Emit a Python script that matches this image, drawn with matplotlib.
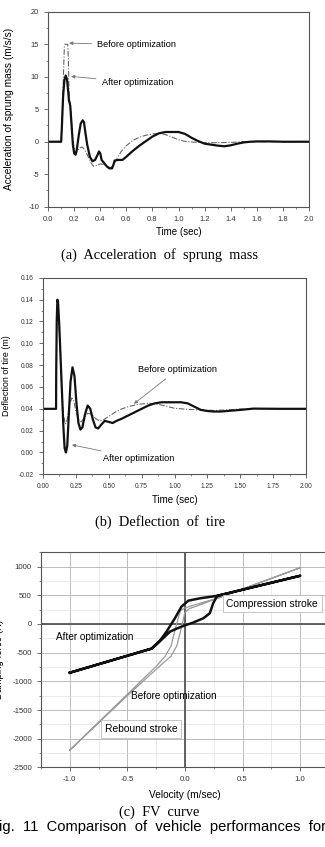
import matplotlib
matplotlib.use("Agg")
import matplotlib.pyplot as plt
from matplotlib.ticker import MultipleLocator

plt.rcParams['font.family'] = ['Liberation Sans', 'DejaVu Sans']
plt.rcParams['axes.unicode_minus'] = False

# (a) acceleration of sprung mass
t_a_after = [0.0, 0.10, 0.105, 0.115, 0.125, 0.135, 0.145, 0.155, 0.16, 0.165, 0.17, 0.18, 0.19, 0.20, 0.21,
             0.22, 0.235, 0.25, 0.265, 0.275, 0.285, 0.30, 0.32, 0.34, 0.36, 0.375, 0.39, 0.40, 0.41, 0.43,
             0.45, 0.47, 0.49, 0.50, 0.51, 0.54, 0.57, 0.60, 0.65, 0.70, 0.75, 0.80, 0.85, 0.90, 0.95, 1.00,
             1.05, 1.10, 1.15, 1.20, 1.25, 1.30, 1.35, 1.40, 1.45, 1.50, 1.55, 1.60, 1.70, 1.80, 2.00]
acc_after = [0, 0, 2, 7, 9.5, 10.2, 9.6, 7.5, 6.3, 6.0, 5.5, 2.5, -0.5, -1.8, -2.0,
             -1.2, 1.0, 2.8, 3.3, 3.0, 1.5, -0.5, -2.3, -3.0, -2.8, -2.2, -1.5, -1.8, -2.8, -3.3,
             -3.8, -4.1, -4.1, -3.6, -2.9, -2.8, -2.8, -2.3, -1.4, -0.6, 0.1, 0.8, 1.3, 1.5, 1.5, 1.5,
             1.2, 0.6, 0.1, -0.3, -0.45, -0.6, -0.7, -0.55, -0.3, -0.1, 0.0, 0.05, 0.05, 0.0, 0.0]
t_a_before = [0.0, 0.10, 0.11, 0.12, 0.125, 0.13, 0.15, 0.155, 0.16, 0.165, 0.17, 0.18, 0.19, 0.20, 0.21,
              0.22, 0.24, 0.26, 0.28, 0.30, 0.33, 0.35, 0.38, 0.40, 0.43, 0.46, 0.48, 0.50, 0.53, 0.56,
              0.60, 0.65, 0.70, 0.75, 0.80, 0.85, 0.90, 0.95, 1.00, 1.05, 1.10, 1.20, 1.30, 1.40, 1.50, 2.00]
acc_before = [0, 0, 5, 12, 14.8, 15.0, 15.0, 13, 8, 6.3, 5.8, 3, 0.5, -1.0, -1.8,
              -1.6, -1.0, -0.8, -1.2, -2.0, -3.3, -3.8, -3.6, -3.4, -3.5, -3.9, -4.0, -3.6, -2.5, -1.5,
              -0.6, 0.2, 0.7, 1.0, 1.2, 1.3, 1.1, 0.7, 0.3, 0.05, -0.05, -0.15, -0.15, -0.1, 0.0, 0.0]

# (b) deflection of tire
t_b_after = [0.0, 0.10, 0.101, 0.105, 0.11, 0.115, 0.125, 0.14, 0.155, 0.165, 0.175, 0.185, 0.195, 0.21,
             0.225, 0.24, 0.255, 0.27, 0.285, 0.30, 0.32, 0.34, 0.36, 0.38, 0.40, 0.42, 0.44, 0.47, 0.50,
             0.53, 0.56, 0.60, 0.65, 0.70, 0.75, 0.80, 0.85, 0.90, 0.95, 1.00, 1.05, 1.10, 1.15, 1.20,
             1.25, 1.30, 1.35, 1.40, 1.50, 1.60, 1.80, 2.00]
defl_after = [0.04, 0.04, 0.07, 0.12, 0.14, 0.138, 0.115, 0.07, 0.025, 0.004, 0.0, 0.006, 0.03, 0.065,
              0.078, 0.07, 0.045, 0.027, 0.021, 0.023, 0.035, 0.043, 0.04, 0.03, 0.023, 0.022, 0.025, 0.029,
              0.028, 0.027, 0.029, 0.031, 0.034, 0.037, 0.040, 0.043, 0.045, 0.046, 0.046, 0.046, 0.046,
              0.045, 0.042, 0.039, 0.038, 0.0375, 0.0375, 0.038, 0.039, 0.0402, 0.040, 0.040]
t_b_before = [0.0, 0.10, 0.101, 0.105, 0.11, 0.115, 0.125, 0.14, 0.155, 0.17, 0.185, 0.20, 0.22, 0.235,
              0.25, 0.27, 0.29, 0.31, 0.34, 0.37, 0.40, 0.43, 0.46, 0.50, 0.55, 0.60, 0.65, 0.70, 0.75,
              0.80, 0.85, 0.90, 0.95, 1.00, 1.10, 1.20, 1.30, 1.40, 1.50, 1.60, 2.00]
defl_before = [0.04, 0.04, 0.07, 0.12, 0.14, 0.138, 0.11, 0.065, 0.035, 0.026, 0.03, 0.043, 0.05, 0.047,
               0.038, 0.03, 0.028, 0.031, 0.036, 0.035, 0.031, 0.029, 0.030, 0.033, 0.037, 0.040, 0.042,
               0.0435, 0.0445, 0.045, 0.0448, 0.0435, 0.042, 0.0405, 0.0395, 0.039, 0.0385, 0.039, 0.0398,
               0.040, 0.040]

# (c) FV curve (hysteresis: out along lower branch, back along upper branch)
v_after = [-1.0, -0.29, -0.245, -0.19, -0.13, -0.07, -0.014, 0.07, 0.16, 0.216, 0.245, 0.28, 1.0,
           0.28, 0.13, 0.03, -0.03, -0.087, -0.16, -0.216, -0.29, -1.0]
f_after = [-850, -430, -354, -250, -134, -80, -35, 23, 99, 186, 360, 490, 840,
           490, 447, 406, 302, 99, -134, -290, -430, -850]
v_before = [-1.0, -0.5, -0.2, -0.12, -0.07, -0.03, 0.0, 0.04, 0.1, 0.3, 1.0,
            0.3, 0.08, 0.0, -0.04, -0.08, -0.12, -0.17, -0.25, -1.0]
f_before = [-2200, -1250, -700, -560, -380, -60, 200, 270, 310, 460, 980,
            460, 330, 280, 230, -60, -380, -560, -740, -2200]

BLACK = '#111111'
DASH = '#666666'
ARROW = dict(arrowstyle='-|>', color='#777777', lw=0.6, mutation_scale=5)

fig = plt.figure(figsize=(3.25, 8.47), dpi=100)


def style(ax):
    for s in ax.spines.values():
        s.set_color('#555555')
        s.set_linewidth(0.8)
    ax.tick_params(which='both', direction='out', labelsize=5.4, colors='#555555', labelcolor='#333333')
    ax.tick_params(which='major', length=3, width=0.6)
    ax.tick_params(which='minor', length=1.5, width=0.5)


# panel (a)
ax1 = fig.add_axes([0.148, 0.756, 0.803, 0.230])
ax1.plot(t_a_before, acc_before, color=DASH, lw=0.8, dashes=(5, 1.5, 1, 1.5))
ax1.plot(t_a_after, acc_after, color=BLACK, lw=1.6)
ax1.set_xlim(0, 2.0)
ax1.set_ylim(-10, 20)
ax1.xaxis.set_major_locator(MultipleLocator(0.2))
ax1.xaxis.set_minor_locator(MultipleLocator(0.1))
ax1.yaxis.set_major_locator(MultipleLocator(5))
ax1.yaxis.set_minor_locator(MultipleLocator(2.5))
ax1.xaxis.set_major_formatter(plt.FuncFormatter(lambda v, p: f"{v:.1f}"))
style(ax1)
ax1.set_xlabel("Time (sec)", fontsize=7)
ax1.xaxis.set_label_coords(0.5, -0.105)
ax1.set_ylabel("Acceleration of sprung mass (m/s/s)", fontsize=7.3)
ax1.yaxis.set_label_coords(-0.13, 0.5)
ax1.annotate("Before optimization", xy=(0.14, 15.2), xytext=(0.375, 14.9), fontsize=6.6,
             va='center', arrowprops=ARROW)
ax1.annotate("After optimization", xy=(0.155, 10.1), xytext=(0.41, 9.1), fontsize=6.6,
             va='center', arrowprops=ARROW)

# panel (b)
ax2 = fig.add_axes([0.132, 0.440, 0.810, 0.232])
ax2.plot(t_b_before, defl_before, color=DASH, lw=0.8, dashes=(5, 1.5, 1, 1.5))
ax2.plot(t_b_after, defl_after, color=BLACK, lw=1.6)
ax2.set_xlim(0, 2.0)
ax2.set_ylim(-0.02, 0.16)
ax2.xaxis.set_major_locator(MultipleLocator(0.25))
ax2.xaxis.set_minor_locator(MultipleLocator(0.125))
ax2.yaxis.set_major_locator(MultipleLocator(0.02))
ax2.yaxis.set_minor_locator(MultipleLocator(0.01))
ax2.xaxis.set_major_formatter(plt.FuncFormatter(lambda v, p: f"{v:.2f}"))
ax2.yaxis.set_major_formatter(plt.FuncFormatter(lambda v, p: f"{v:.2f}"))
style(ax2)
ax2.tick_params(labelsize=4.8)
ax2.set_xlabel("Time (sec)", fontsize=7)
ax2.xaxis.set_label_coords(0.5, -0.105)
ax2.set_ylabel("Deflection of tire (m)", fontsize=6.4)
ax2.yaxis.set_label_coords(-0.122, 0.5)
ax2.annotate("Before optimization", xy=(0.675, 0.043), xytext=(0.72, 0.0757), fontsize=6.6,
             va='center', arrowprops=ARROW)
ax2.annotate("After optimization", xy=(0.2, 0.0075), xytext=(0.46, -0.0057), fontsize=6.6,
             va='center', arrowprops=ARROW)

# panel (c)
ax3 = fig.add_axes([0.126, 0.094, 0.886, 0.254])
ax3.set_xlim(-1.25, 1.25)
ax3.set_ylim(-2500, 1250)
ax3.xaxis.set_major_locator(MultipleLocator(0.5))
ax3.xaxis.set_minor_locator(MultipleLocator(0.25))
ax3.yaxis.set_major_locator(MultipleLocator(500))
ax3.yaxis.set_minor_locator(MultipleLocator(250))
ax3.xaxis.set_major_formatter(plt.FuncFormatter(lambda v, p: f"{v:.1f}"))
ax3.grid(True, which='major', color='#bbbbbb', lw=0.7)
ax3.grid(True, which='minor', color='#e2e2e2', lw=0.5)
ax3.axhline(0, color='#555555', lw=1.3)
ax3.axvline(0, color='#555555', lw=1.3)
ax3.plot(v_before, f_before, color='#9a9a9a', lw=0.9)
ax3.plot(v_after, f_after, color=BLACK, lw=1.8)
style(ax3)
ax3.tick_params(labelsize=5.6)
ax3.set_xlabel("Velocity (m/sec)", fontsize=7.3)
ax3.xaxis.set_label_coords(0.5, -0.105)
ax3.set_ylabel("Damping force (N)", fontsize=7)
ax3.yaxis.set_label_coords(-0.13, 0.5)
ax3.text(-1.12, -225, "After optimization", fontsize=7.2, va='center')
ax3.text(-0.095, -1250, "Before optimization", fontsize=7.2, va='center', ha='center')
box = dict(boxstyle='square,pad=0.35', fc='white', ec='#bbbbbb', lw=0.6)
ax3.text(0.36, 350, "Compression stroke", fontsize=7.4, va='center', bbox=box)
ax3.text(-0.38, -1830, "Rebound stroke", fontsize=7.4, va='center', ha='center', bbox=box)

# captions
cap = dict(fontsize=10.4, ha='center', va='center', family='Liberation Serif')
fig.text(0.49, 0.699, "(a)  Acceleration  of  sprung  mass", **cap)
fig.text(0.492, 0.384, "(b)  Deflection  of  tire", **cap)
fig.text(0.49, 0.041, "(c)  FV  curve", **cap)
fig.text(-0.03, 0.024, "Fig.  11  Comparison  of  vehicle  performances  for", fontsize=10.6,
         ha='left', va='center')

fig.savefig("out.png", dpi=100)
